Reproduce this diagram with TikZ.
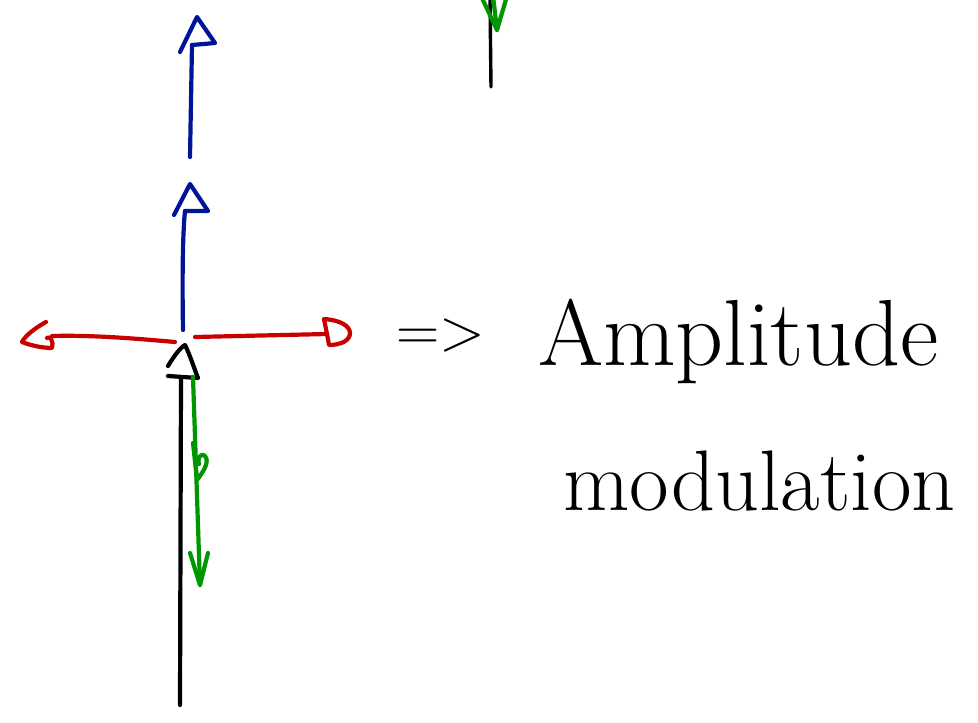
\documentclass[tikz,border=0pt]{standalone}
\usepackage{fontspec}
\definecolor{inkblue}{RGB}{0,20,150}
\definecolor{inkred}{RGB}{200,0,0}
\definecolor{inkgreen}{RGB}{0,150,0}
\begin{document}
\begin{tikzpicture}[x=1pt,y=-1pt,
  ink/.style={line width=4.2pt,line cap=round,line join=round},
  thin ink/.style={line width=3.4pt,line cap=round,line join=round},
  hand/.style={inner sep=0pt,anchor=base west,font=\itshape}]
\useasboundingbox (0,0) rectangle (978,723);
% top: black stem with green tip
\coordinate (tb1) at (490,0);
\coordinate (tb2) at (491,87);
\draw[thin ink,black] (tb1) -- (tb2);
\draw[ink,inkgreen] (481,-4) -- (497,30) -- (507,-4);
\draw[ink,inkgreen] (493,-4) -- (497,30);
% blue upper arrow
\coordinate (bu1) at (190,157);
\coordinate (bu2) at (192,45);
\draw[ink,inkblue] (bu1) -- (bu2);
\draw[ink,inkblue] (180,52) -- (197,17) -- (215,43) -- (bu2);
% blue lower arrow
\coordinate (bl1) at (183,330);
\coordinate (bl2) at (185,211);
\draw[ink,inkblue] (bl1) .. controls (182,270) and (183,230) .. (bl2);
\draw[ink,inkblue] (174,215) -- (190,184) -- (208,211) -- (bl2);
% red right arrow
\coordinate (rr1) at (195,337);
\coordinate (rr2) at (327,334);
\draw[ink,inkred] (rr1) -- (rr2);
\draw[ink,inkred] (rr2) -- (324,319) .. controls (340,320) and (350,326) .. (350,333)
  .. controls (350,341) and (340,345) .. (329,345) -- (rr2);
% red left arrow
\coordinate (rl1) at (175,342);
\coordinate (rl2) at (52,336);
\draw[ink,inkred] (rl1) .. controls (130,338) and (90,335) .. (rl2);
\draw[ink,inkred] (46,322) .. controls (35,328) and (25,336) .. (22,342)
  .. controls (32,346) and (44,348) .. (52,348) .. controls (54,342) and (50,335) .. (47,338);
% black upward arrow
\coordinate (bk1) at (180,705);
\coordinate (bk2) at (181,377);
\draw[ink,black] (bk1) -- (bk2);
\draw[ink,black] (168,366) .. controls (174,356) and (180,348) .. (185,345)
  .. controls (190,355) and (194,368) .. (198,378) -- (168,376);
% green downward arrow
\coordinate (gd1) at (193,377);
\coordinate (gd2) at (200,585);
\draw[ink,inkgreen] (gd1) -- (gd2);
\draw[ink,inkgreen] (193,443) -- (197,480) .. controls (203,472) and (210,462) .. (205,456)
  .. controls (200,452) and (197,460) .. (199,464);
\draw[ink,inkgreen] (190,553) -- (200,585) -- (208,553);
% implies sign
\node[inner sep=0pt,font=\fontsize{60}{70}\selectfont] (impl) at (441,336) {=>};
% text
\node[hand,font=\fontsize{94}{110}\selectfont] (amp) at (538,365) {Amplitude};
\node[hand,font=\fontsize{86}{100}\selectfont] (mod) at (563,510) {modulation};
\end{tikzpicture}
\end{document}
